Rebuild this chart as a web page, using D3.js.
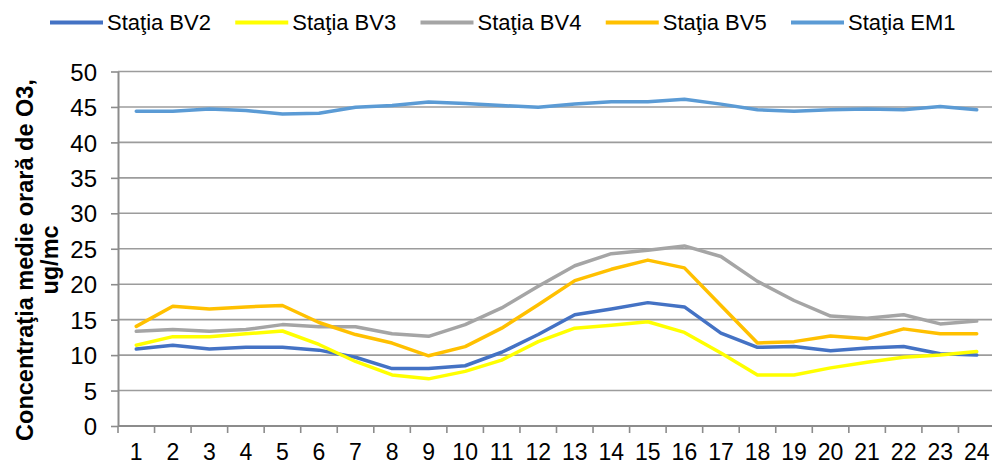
<!DOCTYPE html>
<html>
<head>
<meta charset="utf-8">
<script src="https://cdn.jsdelivr.net/npm/d3@7"></script>
<style>
  html, body { margin: 0; padding: 0; background: #fff; overflow: hidden; }
  svg { display: block; font-family: "Liberation Sans", Arial, sans-serif; }
</style>
</head>
<body>
<div id="chart"></div>
<script>
// Hours of the day (category axis)
const hours = ['1', '2', '3', '4', '5', '6', '7', '8', '9', '10', '11', '12',
               '13', '14', '15', '16', '17', '18', '19', '20', '21', '22', '23', '24'];

// Mean hourly O3 concentration per station, ug/mc
const bv2 = [10.85, 11.4, 10.85, 11.1, 11.1, 10.7, 9.7, 8.1, 8.1, 8.5, 10.4, 12.9,
             15.7, 16.5, 17.4, 16.8, 13.1, 11.1, 11.2, 10.6, 11.0, 11.2, 10.2, 10.0];
const bv3 = [11.4, 12.6, 12.6, 13.0, 13.4, 11.5, 9.1, 7.2, 6.65, 7.7, 9.3, 11.9,
             13.8, 14.2, 14.7, 13.2, 10.3, 7.2, 7.2, 8.2, 9.0, 9.7, 10.0, 10.5];
const bv4 = [13.35, 13.6, 13.35, 13.6, 14.3, 14.0, 14.0, 13.0, 12.65, 14.3, 16.65, 19.7,
             22.6, 24.3, 24.8, 25.4, 23.9, 20.4, 17.7, 15.5, 15.2, 15.7, 14.4, 14.8];
const bv5 = [14.05, 16.9, 16.5, 16.8, 17.0, 14.6, 12.9, 11.7, 9.9, 11.2, 13.8, 17.1,
             20.5, 22.1, 23.4, 22.3, 17.0, 11.7, 11.9, 12.7, 12.3, 13.7, 13.0, 13.0];
const em1 = [44.4, 44.4, 44.7, 44.5, 44.0, 44.1, 44.95, 45.2, 45.7, 45.5, 45.2, 44.95,
             45.4, 45.75, 45.75, 46.1, 45.4, 44.6, 44.4, 44.6, 44.7, 44.6, 45.05, 44.6];

const seriesNames = ['Staţia BV2', 'Staţia BV3', 'Staţia BV4', 'Staţia BV5', 'Staţia EM1'];
const seriesColors = ['#4472C4', '#FFFF00', '#A5A5A5', '#FFC000', '#5B9BD5'];
const yTicks = [0, 5, 10, 15, 20, 25, 30, 35, 40, 45, 50];

document.addEventListener('DOMContentLoaded', function() {
    const config = {
        width: 992,
        height: 465,
        plot: { left: 118, right: 995, top: 71.5, bottom: 426 },
        gridColor: '#9c9c9c',
        axisColor: '#8c8c8c',
        lineWidth: 3.5
    };

    const series = seriesNames.map((name, i) => ({
        name: name,
        color: seriesColors[i],
        values: [bv2, bv3, bv4, bv5, em1][i]
    }));

    const svg = d3.select('#chart').append('svg')
        .attr('width', config.width)
        .attr('height', config.height);

    // Scales
    const x = d3.scaleBand()
        .domain(hours)
        .range([config.plot.left, config.plot.right])
        .paddingInner(0)
        .paddingOuter(0);

    const y = d3.scaleLinear()
        .domain([0, 50])
        .range([config.plot.bottom, config.plot.top]);

    // Horizontal gridlines
    svg.append('g')
        .selectAll('line')
        .data(yTicks.filter(d => d > 0))
        .enter()
        .append('line')
        .attr('x1', config.plot.left)
        .attr('x2', config.plot.right)
        .attr('y1', d => y(d))
        .attr('y2', d => y(d))
        .attr('stroke', config.gridColor)
        .attr('stroke-width', 1.6);

    // Y axis
    const yAxis = svg.append('g')
        .attr('transform', `translate(${config.plot.left},0)`)
        .call(d3.axisLeft(y).tickValues(yTicks).tickSize(7).tickPadding(14).tickSizeOuter(0));
    yAxis.select('.domain').attr('stroke', config.axisColor).attr('stroke-width', 2);
    yAxis.selectAll('.tick line').attr('stroke', config.axisColor).attr('stroke-width', 1.6);
    yAxis.selectAll('.tick text')
        .attr('font-size', '24px')
        .attr('font-family', '"Liberation Sans", Arial, sans-serif')
        .attr('fill', '#000')
        .attr('dy', '0.36em');

    // X axis: ticks sit on category boundaries, labels at the centres
    const xAxisG = svg.append('g')
        .attr('transform', `translate(0,${config.plot.bottom})`);
    xAxisG.append('line')
        .attr('x1', config.plot.left)
        .attr('x2', config.plot.right)
        .attr('stroke', config.axisColor)
        .attr('stroke-width', 2);
    xAxisG.selectAll('line.tick')
        .data(hours)
        .enter()
        .append('line')
        .attr('class', 'tick')
        .attr('x1', d => x(d))
        .attr('x2', d => x(d))
        .attr('y1', 0)
        .attr('y2', 7)
        .attr('stroke', config.axisColor)
        .attr('stroke-width', 1.6);
    xAxisG.selectAll('text')
        .data(hours)
        .enter()
        .append('text')
        .attr('x', d => x(d) + x.bandwidth() / 2)
        .attr('y', 34)
        .attr('text-anchor', 'middle')
        .attr('font-size', '23px')
        .attr('fill', '#000')
        .text(d => d);

    // Lines
    const line = d3.line()
        .x((d, i) => x(hours[i]) + x.bandwidth() / 2)
        .y(d => y(d));

    svg.append('g')
        .selectAll('path')
        .data(series)
        .enter()
        .append('path')
        .attr('d', d => line(d.values))
        .attr('fill', 'none')
        .attr('stroke', d => d.color)
        .attr('stroke-width', config.lineWidth)
        .attr('stroke-linejoin', 'round')
        .attr('stroke-linecap', 'round');

    // Y axis title (two lines, rotated)
    const title = svg.append('g')
        .attr('transform', 'translate(0,260) rotate(-90)');
    title.append('text')
        .attr('x', 0)
        .attr('y', 33)
        .attr('text-anchor', 'middle')
        .attr('font-size', '23.5px')
        .attr('font-weight', 'bold')
        .attr('fill', '#000')
        .text('Concentraţia medie orară de O3,');
    title.append('text')
        .attr('x', 0)
        .attr('y', 58)
        .attr('text-anchor', 'middle')
        .attr('font-size', '23.5px')
        .attr('font-weight', 'bold')
        .attr('fill', '#000')
        .text('ug/mc');

    // Legend
    const legend = svg.append('g')
        .selectAll('g')
        .data(series)
        .enter()
        .append('g')
        .attr('transform', (d, i) => `translate(${50 + i * 185.25}, 22.5)`);
    legend.append('line')
        .attr('x1', 0)
        .attr('x2', 53)
        .attr('stroke', d => d.color)
        .attr('stroke-width', 4);
    legend.append('text')
        .attr('x', 57)
        .attr('y', 7.5)
        .attr('font-size', '22px')
        .attr('fill', '#000')
        .text(d => d.name);
});
</script>
</body>
</html>
